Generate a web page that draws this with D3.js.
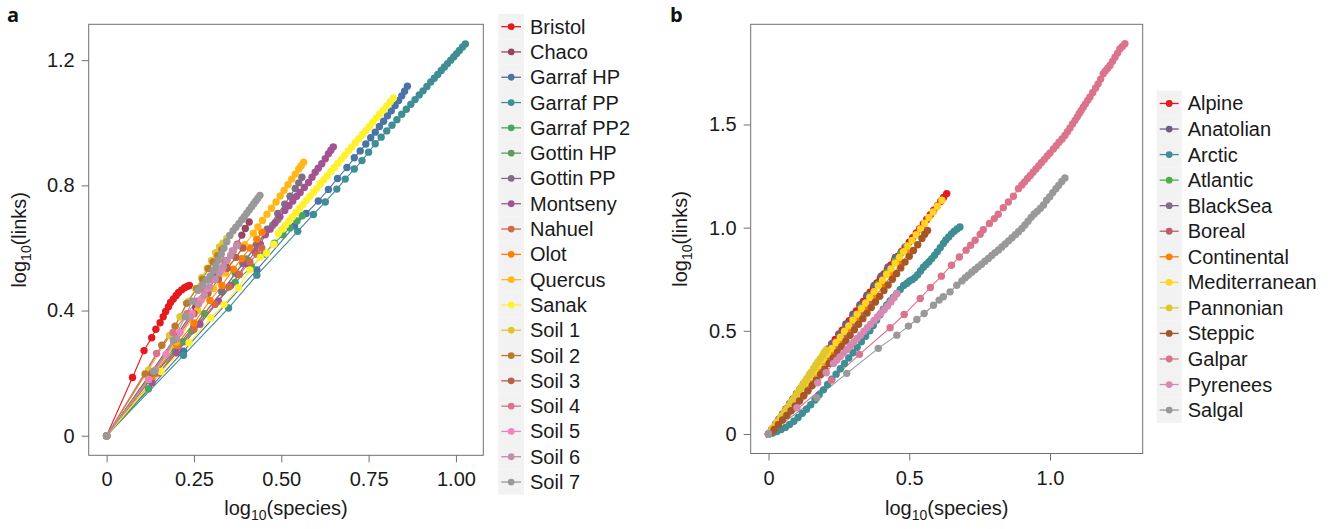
<!DOCTYPE html>
<html>
<head>
<meta charset="utf-8">
<script src="https://cdn.jsdelivr.net/npm/d3@7"></script>
<style>
  body { margin: 0; background: #fff; }
  svg { font-family: "Liberation Sans", Arial, sans-serif; }
</style>
</head>
<body>
<svg id="chart" width="1338" height="529"></svg>
<script>
// ---- panel a data: log10(species) vs log10(links) ----
const namesA = ["Bristol", "Chaco", "Garraf HP", "Garraf PP", "Garraf PP2", "Gottin HP", "Gottin PP",
  "Montseny", "Nahuel", "Olot", "Quercus", "Sanak", "Soil 1", "Soil 2", "Soil 3", "Soil 4",
  "Soil 5", "Soil 6", "Soil 7"];

const bristol = [[0,0],[.074,.186],[.107,.272],[.129,.313],[.141,.34],[.153,.361],[.162,.38],[.169,.397],
  [.177,.412],[.183,.426],[.191,.437],[.199,.448],[.206,.458],[.215,.466],[.223,.473],[.23,.477],[.237,.48]];
const chaco = [[0,0],[.12,.19],[.2,.32],[.255,.41],[.29,.465],[.315,.508],[.34,.55],[.36,.58],[.374,.612],
  [.387,.641],[.397,.662],[.408,.683]];
const garrafHP = [[0,0],[.22,.27],[.43,.53],[.538,.67],[.571,.71],[.606,.75],[.635,.787],[.661,.822],[.688,.857],
  [.709,.888],[.726,.91],[.742,.932],[.756,.952],[.769,.97],[.781,.988],[.793,1.005],[.804,1.022],[.815,1.038],
  [.826,1.055],[.836,1.071],[.845,1.086],[.853,1.101],[.861,1.117]];
const garrafPP = [[0,0],[.22,.257],[.349,.408],[.43,.513],[.547,.653],[.592,.707],[.626,.747],[.659,.788],
  [.683,.82],[.709,.852],[.731,.879],[.75,.906],[.769,.933],[.786,.954],[.802,.974],[.817,.992],[.831,1.01],
  [.845,1.027],[.858,1.043],[.871,1.059],[.883,1.074],[.895,1.089],[.906,1.102],[.917,1.116],[.928,1.13],
  [.938,1.142],[.948,1.154],[.958,1.167],[.967,1.178],[.976,1.189],[.985,1.2],[.994,1.211],[1.002,1.221],
  [1.01,1.231],[1.019,1.242],[1.027,1.252]];
const garrafPP2 = [[0,0],[.12,.15],[.196,.27],[.244,.335],[.31,.42],[.368,.49],[.415,.54],[.45,.58],[.48,.615],
  [.505,.642],[.525,.664],[.545,.686],[.56,.703]];
const gottinHP = [[0,0],[.122,.176],[.22,.3],[.28,.39],[.33,.46],[.368,.52],[.4,.565],[.43,.61],[.455,.645],
  [.475,.672],[.49,.69]];
const gottinPP = [[0,0],[.14,.2],[.25,.35],[.33,.46],[.39,.55],[.43,.61],[.46,.66],[.49,.71],[.51,.74],
  [.525,.765],[.54,.79],[.55,.808],[.559,.826]];
const montseny = [[0,0],[.13,.17],[.2,.265],[.267,.356],[.32,.43],[.355,.48],[.377,.515],[.4,.55],[.425,.588],
  [.44,.612],[.454,.642],[.468,.66],[.482,.68],[.496,.7],[.51,.72],[.522,.735],[.533,.75],[.544,.765],
  [.554,.777],[.566,.793],[.578,.809],[.588,.826],[.597,.842],[.606,.855],[.616,.869],[.626,.885],
  [.635,.901],[.642,.912],[.649,.923]];
const nahuel = [[0,0],[.15,.2],[.25,.34],[.31,.42],[.35,.475],[.38,.515],[.41,.555],[.43,.58],[.444,.6]];
const olot = [[0,0],[.13,.19],[.2,.29],[.25,.36],[.296,.432],[.33,.48],[.363,.532],[.387,.566],[.41,.6],
  [.43,.628],[.445,.65]];
const quercus = [[0,0],[.12,.18],[.2,.3],[.26,.4],[.306,.47],[.34,.52],[.37,.57],[.395,.61],[.42,.647],
  [.433,.667],[.446,.688],[.459,.708],[.472,.727],[.485,.747],[.497,.766],[.508,.784],[.519,.802],[.53,.82],
  [.54,.836],[.55,.852],[.557,.863],[.564,.874]];
const sanak = [[0,0],[.156,.205],[.236,.297],[.298,.376],[.336,.419],[.377,.473],[.41,.53],[.44,.57],[.458,.583],
  [.479,.612],[.492,.647],[.502,.66],[.512,.673],[.522,.686],[.532,.7],[.542,.713],[.552,.726],[.562,.739],
  [.572,.752],[.582,.765],[.592,.778],[.602,.791],[.612,.805],[.622,.818],[.632,.831],[.642,.844],[.652,.857],
  [.662,.87],[.672,.883],[.682,.896],[.692,.91],[.702,.923],[.712,.936],[.722,.949],[.732,.962],[.742,.975],
  [.752,.988],[.762,1.002],[.772,1.015],[.782,1.028],[.792,1.041],[.802,1.054],[.812,1.067],[.821,1.079]];
const soil1 = [[0,0],[.12,.21],[.18,.32],[.21,.38],[.235,.43],[.255,.47],[.272,.505],[.288,.535],[.3,.56],
  [.312,.585],[.323,.603],[.333,.615],[.344,.63],[.352,.64]];
const soil2 = [[0,0],[.11,.197],[.158,.289],[.196,.35],[.229,.423],[.258,.47],[.275,.5],[.291,.534],[.305,.555],
  [.318,.575],[.33,.595]];
const soil3 = [[0,0],[.13,.2],[.2,.31],[.25,.39],[.29,.455],[.32,.5],[.345,.535],[.37,.57],[.39,.6]];
const soil4 = [[0,0],[.143,.263],[.19,.33],[.23,.39],[.258,.43],[.28,.465],[.3,.5],[.32,.53],[.34,.56],
  [.36,.59],[.375,.61]];
const soil5 = [[0,0],[.12,.18],[.17,.26],[.21,.33],[.245,.39],[.27,.435],[.29,.47],[.31,.5],[.33,.53]];
const soil6 = [[0,0],[.14,.21],[.2,.31],[.24,.38],[.262,.42],[.28,.45],[.295,.475],[.31,.5],[.322,.52],
  [.334,.54],[.345,.56],[.355,.576],[.363,.592],[.372,.607]];
const soil7 = [[0,0],[.134,.205],[.191,.305],[.225,.38],[.245,.43],[.262,.465],[.275,.482],[.286,.497],
  [.296,.51],[.305,.528],[.313,.545],[.32,.561],[.328,.58],[.336,.6],[.344,.62],[.353,.64],[.362,.655],
  [.37,.666],[.379,.678],[.387,.69],[.394,.7],[.401,.711],[.408,.721],[.415,.732],[.421,.741],[.427,.75],
  [.433,.759],[.439,.768]];

const seriesA = [bristol, chaco, garrafHP, garrafPP, garrafPP2, gottinHP, gottinPP, montseny, nahuel, olot,
  quercus, sanak, soil1, soil2, soil3, soil4, soil5, soil6, soil7];
const xTicksA = [0, 0.25, 0.5, 0.75, 1.0];
const xLabelsA = ["0", "0.25", "0.50", "0.75", "1.00"];
const yTicksA = [0, 0.4, 0.8, 1.2];
const yLabelsA = ["0", "0.4", "0.8", "1.2"];

// ---- panel b data ----
const namesB = ["Alpine", "Anatolian", "Arctic", "Atlantic", "BlackSea", "Boreal", "Continental",
  "Mediterranean", "Pannonian", "Steppic", "Galpar", "Pyrenees", "Salgal"];

const alpine = [[0,0],[.012,.023],[.025,.048],[.037,.072],[.05,.097],[.062,.121],[.075,.146],[.087,.17],
  [.1,.195],[.112,.218],[.125,.243],[.137,.267],[.15,.292],[.162,.316],[.175,.341],[.187,.365],[.2,.39],
  [.212,.412],[.225,.436],[.237,.458],[.25,.481],[.262,.503],[.275,.527],[.287,.549],[.3,.573],[.312,.596],
  [.325,.62],[.337,.642],[.349,.665],[.361,.687],[.373,.709],[.385,.732],[.397,.754],[.41,.776],[.422,.797],
  [.435,.819],[.447,.84],[.46,.862],[.472,.883],[.485,.905],[.5,.93],[.512,.951],[.525,.974],[.537,.995],
  [.55,1.018],[.562,1.04],[.575,1.063],[.587,1.084],[.6,1.107],[.612,1.128],[.622,1.146],[.633,1.165]];
const anatolian = [[0,0],[.025,.047],[.05,.096],[.075,.145],[.1,.194],[.125,.243],[.15,.291],[.175,.34],
  [.2,.389],[.225,.437],[.25,.485],[.275,.533],[.3,.58],[.325,.627],[.35,.673],[.375,.72],[.4,.765],
  [.425,.81],[.45,.855]];
const arctic = [[0,0],[.015,.005],[.03,.012],[.045,.022],[.06,.032],[.075,.046],[.09,.062],[.105,.08],[.12,.1],
  [.135,.12],[.15,.142],[.165,.165],[.18,.19],[.195,.214],[.21,.24],[.225,.265],[.24,.29],[.255,.316],
  [.27,.342],[.285,.368],[.3,.394],[.315,.42],[.33,.447],[.345,.474],[.36,.5],[.372,.526],[.384,.552],
  [.396,.578],[.408,.605],[.42,.625],[.432,.645],[.444,.663],[.456,.681],[.468,.7],[.48,.72],[.491,.729],
  [.5,.74],[.51,.748],[.52,.758],[.53,.772],[.54,.79],[.55,.808],[.56,.822],[.57,.835],[.58,.85],[.59,.866],
  [.6,.884],[.61,.903],[.621,.923],[.63,.94],[.64,.955],[.65,.97],[.66,.983],[.67,.994],[.68,1.003]];
const atlantic = [[0,0],[.03,.05],[.06,.11],[.09,.165],[.12,.22],[.15,.277],[.18,.333],[.21,.39],[.24,.446],
  [.27,.502],[.3,.558],[.33,.614],[.36,.67],[.39,.726],[.42,.782],[.45,.838],[.47,.875],[.49,.91]];
const blackSea = [[0,0],[.03,.055],[.06,.11],[.09,.165],[.12,.22],[.15,.276],[.18,.332],[.21,.388],
  [.24,.444],[.27,.5],[.3,.556]];
const boreal = [[0,0],[.03,.05],[.06,.104],[.09,.158],[.12,.212],[.15,.266],[.18,.32],[.21,.374],[.24,.428],
  [.27,.482],[.3,.536],[.33,.59],[.36,.644]];
const continental = [[0,0],[.02,.03],[.05,.085],[.08,.14],[.11,.19],[.14,.245],[.17,.3],[.2,.352],[.23,.405],
  [.26,.457],[.29,.51],[.32,.562],[.35,.615],[.38,.667],[.41,.72],[.44,.772],[.47,.825],[.5,.878]];
const mediterranean = [[0,0],[.015,.028],[.03,.055],[.045,.083],[.06,.11],[.075,.138],[.09,.166],[.105,.193],
  [.12,.221],[.135,.248],[.15,.276],[.165,.304],[.18,.331],[.195,.359],[.21,.386],[.225,.414],[.24,.442],
  [.255,.469],[.27,.497],[.285,.524],[.3,.552],[.315,.58],[.33,.607],[.345,.635],[.36,.662],[.375,.69],
  [.39,.718],[.405,.745],[.42,.773],[.435,.8],[.45,.828],[.465,.856],[.48,.883],[.495,.911],[.51,.938],
  [.525,.966],[.54,.994],[.555,1.021],[.57,1.049],[.585,1.076],[.6,1.104],[.616,1.133]];
const pannonian = [[0,0],[.008,.012],[.016,.027],[.024,.042],[.032,.058],[.04,.073],[.048,.09],[.056,.105],
  [.064,.12],[.072,.137],[.08,.153],[.088,.168],[.096,.185],[.104,.2],[.112,.218],[.12,.235],[.128,.252],
  [.136,.268],[.144,.285],[.152,.3],[.16,.318],[.168,.335],[.176,.35],[.184,.365],[.192,.38],[.198,.395],
  [.205,.407]];
const steppic = [[0,0],[.006,.003],[.02,.022],[.035,.045],[.05,.068],[.065,.09],[.08,.113],[.095,.136],
  [.11,.16],[.125,.185],[.14,.21],[.155,.235],[.17,.262],[.185,.288],[.2,.315],[.215,.342],[.23,.37],
  [.245,.397],[.26,.424],[.275,.451],[.29,.478],[.305,.505],[.32,.532],[.335,.559],[.35,.586],[.365,.613],
  [.38,.64],[.395,.667],[.41,.695],[.425,.722],[.44,.75],[.455,.777],[.47,.805],[.485,.833],[.5,.861],
  [.515,.889],[.53,.917],[.545,.948],[.555,.968],[.565,.986]];
const galpar = [[0,0],[.223,.261],[.323,.386],[.432,.515],[.482,.579],[.539,.657],[.575,.71],[.614,.765],
  [.65,.818],[.678,.858],[.702,.891],[.718,.915],[.734,.939],[.752,.968],[.763,.99],[.785,1.02],[.802,1.044],
  [.816,1.065],[.834,1.097],[.852,1.124],[.87,1.152],[.888,1.189],[.9,1.207],[.91,1.222],[.92,1.238],
  [.93,1.253],[.94,1.269],[.95,1.284],[.96,1.3],[.97,1.316],[.98,1.331],[.99,1.347],[1.0,1.362],
  [1.012,1.381],[1.022,1.397],[1.032,1.414],[1.043,1.43],[1.053,1.447],[1.062,1.465],
  [1.071,1.483],[1.08,1.502],[1.089,1.52],[1.097,1.537],[1.104,1.553],[1.111,1.568],[1.118,1.584],
  [1.126,1.6],[1.134,1.617],[1.142,1.633],[1.152,1.655],[1.162,1.677],[1.171,1.697],[1.18,1.72],
  [1.189,1.746],[1.197,1.76],[1.205,1.773],[1.213,1.786],[1.222,1.806],[1.231,1.826],[1.24,1.846],
  [1.248,1.866],[1.257,1.878],[1.266,1.891]];
const pyrenees = [[0,0],[.101,.127],[.175,.248],[.205,.297],[.231,.342],[.243,.358],[.255,.375],[.267,.392],
  [.279,.41],[.291,.428],[.303,.446],[.315,.463],[.327,.48],[.339,.498],[.351,.515],[.363,.532],[.375,.55],
  [.387,.567],[.399,.585],[.411,.602],[.423,.62],[.435,.64],[.446,.66],[.456,.681]];
const salgal = [[0,0],[.172,.176],[.278,.294],[.39,.415],[.456,.479],[.497,.523],[.527,.555],[.553,.584],
  [.586,.624],[.606,.649],[.621,.665],[.645,.689],[.669,.721],[.687,.742],[.699,.757],[.71,.77],[.722,.784],
  [.734,.797],[.745,.81],[.757,.823],[.769,.837],[.781,.851],[.793,.865],[.805,.879],[.817,.892],[.829,.906],
  [.841,.921],[.853,.936],[.865,.951],[.877,.966],[.888,.98],[.9,.996],[.911,1.013],[.922,1.031],[.933,1.05],
  [.944,1.066],[.955,1.079],[.966,1.094],[.977,1.11],[.988,1.133],[.999,1.15],[1.01,1.17],[1.021,1.189],
  [1.031,1.205],[1.042,1.224],[1.053,1.241]];

const seriesB = [alpine, anatolian, arctic, atlantic, blackSea, boreal, continental, mediterranean,
  pannonian, steppic, galpar, pyrenees, salgal];
const xTicksB = [0, 0.5, 1.0];
const xLabelsB = ["0", "0.5", "1.0"];
const yTicksB = [0, 0.5, 1.0, 1.5];
const yLabelsB = ["0", "0.5", "1.0", "1.5"];

const FONT = 20;
const BOX = "#707070";
const INK = "#1a1a1a";
const R = 3.7;

const svg = d3.select("#chart");

// R colorRampPalette(brewer.pal(9, "Set1"))(n)
function set1Ramp(n) {
  return d3.quantize(d3.piecewise(d3.interpolateRgb, d3.schemeSet1), n);
}

function axisTitle(g, label, x, y, rotate) {
  const t = g.append("text")
    .attr("transform", `translate(${x},${y})` + (rotate ? " rotate(-90)" : ""))
    .attr("text-anchor", "middle")
    .attr("font-size", FONT)
    .attr("fill", INK);
  t.append("tspan").text("log");
  t.append("tspan").attr("font-size", 14).attr("dy", 5).text("10");
  t.append("tspan").attr("dy", -5).text(label);
}

function drawPanel(p) {
  const g = svg.append("g");
  const all = p.series.flat();
  const [x0, x1] = d3.extent(all, (d) => d[0]);
  const [y0, y1] = d3.extent(all, (d) => d[1]);
  const ex = (x1 - x0) * 0.05;
  const ey = (y1 - y0) * 0.05;
  const x = d3.scaleLinear().domain([x0 - ex, x1 + ex]).range([p.left, p.right]);
  const y = d3.scaleLinear().domain([y0 - ey, y1 + ey]).range([p.bottom, p.top]);
  const colors = set1Ramp(p.names.length);

  const xAxis = g.append("g")
    .attr("transform", `translate(0,${p.bottom})`)
    .call(d3.axisBottom(x).tickValues(p.xTicks).tickFormat((d, i) => p.xLabels[i])
      .tickSize(7).tickPadding(10));
  const yAxis = g.append("g")
    .attr("transform", `translate(${p.left},0)`)
    .call(d3.axisLeft(y).tickValues(p.yTicks).tickFormat((d, i) => p.yLabels[i])
      .tickSize(7).tickPadding(7));
  [xAxis, yAxis].forEach((a) => {
    a.select(".domain").remove();
    a.selectAll(".tick line").attr("stroke", BOX);
    a.selectAll(".tick text").attr("font-size", FONT).attr("fill", INK)
      .attr("font-family", "Liberation Sans, Arial, sans-serif");
  });

  g.append("rect")
    .attr("x", p.left).attr("y", p.top)
    .attr("width", p.right - p.left).attr("height", p.bottom - p.top)
    .attr("fill", "none").attr("stroke", BOX).attr("stroke-width", 1);

  const line = d3.line().x((d) => x(d[0])).y((d) => y(d[1]));
  g.append("g").selectAll("path")
    .data(p.series)
    .join("path")
    .attr("d", line)
    .attr("fill", "none")
    .attr("stroke", (d, i) => colors[i])
    .attr("stroke-width", 1.1);

  p.series.forEach((s, i) => {
    g.append("g").selectAll("circle")
      .data(s)
      .join("circle")
      .attr("cx", (d) => x(d[0]))
      .attr("cy", (d) => y(d[1]))
      .attr("r", R)
      .attr("fill", colors[i]);
  });

  // legend
  const leg = g.append("g");
  const items = leg.selectAll("g")
    .data(p.names)
    .join("g")
    .attr("transform", (d, i) => `translate(${p.legX},${p.legY + i * p.legH})`);
  items.append("rect")
    .attr("width", p.legW).attr("height", p.legH)
    .attr("fill", "#f2f2f2");
  items.append("line")
    .attr("x1", 3).attr("x2", p.legW - 3)
    .attr("y1", p.legH / 2).attr("y2", p.legH / 2)
    .attr("stroke", (d, i) => colors[i]).attr("stroke-width", 1.3);
  items.append("circle")
    .attr("cx", p.legW / 2).attr("cy", p.legH / 2).attr("r", 3.4)
    .attr("fill", (d, i) => colors[i]);
  items.append("text")
    .attr("x", p.legW + 6)
    .attr("y", p.legH / 2)
    .attr("dy", "0.35em")
    .attr("font-size", FONT)
    .attr("fill", INK)
    .text((d) => d);

  axisTitle(g, "(species)", (p.left + p.right) / 2, 515, false);
  axisTitle(g, "(links)", p.yTitleX, (p.top + p.bottom) / 2, true);

  g.append("text")
    .attr("x", p.tagX).attr("y", 22)
    .attr("font-family", "Open Sans, DejaVu Sans, sans-serif")
    .attr("font-weight", 700)
    .attr("font-size", 20)
    .attr("fill", "#111")
    .text(p.tag);
}

drawPanel({
  tag: "a", tagX: 7,
  names: namesA, series: seriesA,
  xTicks: xTicksA, xLabels: xLabelsA, yTicks: yTicksA, yLabels: yLabelsA,
  left: 88.7, right: 483.3, top: 24.3, bottom: 455.3,
  legX: 498.3, legY: 14, legW: 25.7, legH: 25.3,
  yTitleX: 26
});

drawPanel({
  tag: "b", tagX: 670,
  names: namesB, series: seriesB,
  xTicks: xTicksB, xLabels: xLabelsB, yTicks: yTicksB, yLabels: yLabelsB,
  left: 750.7, right: 1142.7, top: 24.3, bottom: 453.5,
  legX: 1156.7, legY: 90.7, legW: 25, legH: 25.55,
  yTitleX: 687
});
</script>
</body>
</html>
